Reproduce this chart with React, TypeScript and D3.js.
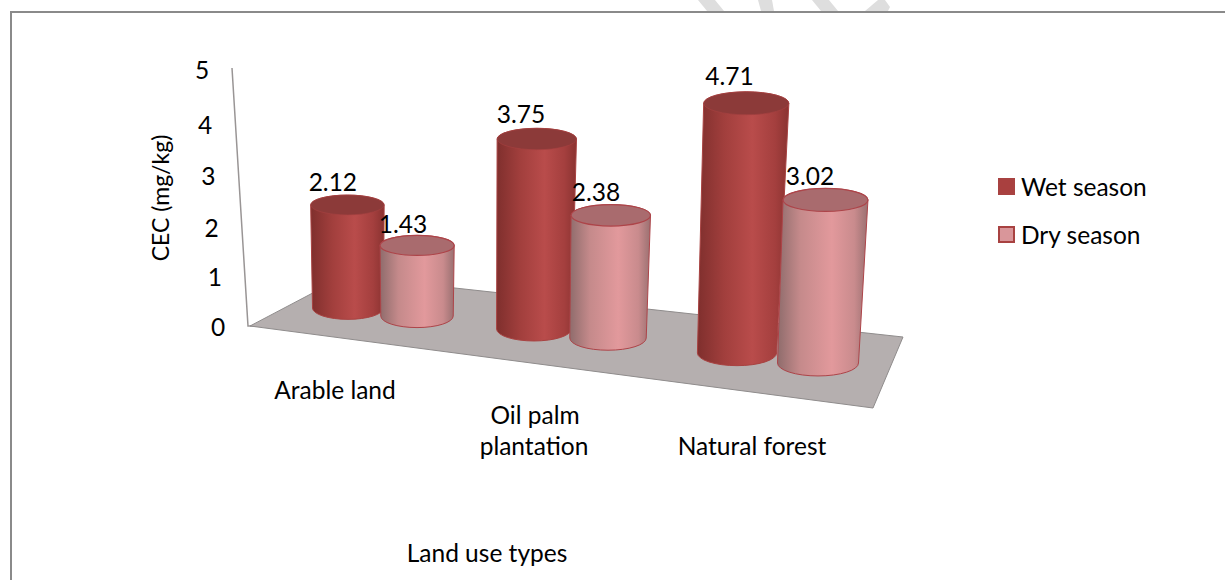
import { useEffect, useRef } from "react";
import * as d3 from "d3";

const categories = ["Arable land", "Oil palm plantation", "Natural forest"];
const seriesNames = ["Wet season", "Dry season"];
const wetValues = [2.12, 3.75, 4.71];
const dryValues = [1.43, 2.38, 3.02];
const tickValues = [0, 1, 2, 3, 4, 5];

const FONT = "Lato, sans-serif";

// bits of the page watermark which stick out above the frame
const watermark = [
	"698,0 715,0 724,11 707,11",
	"758,0 772,0 774,11 761,11",
	"812,0 829,0 838,11 821,11",
	"865,11 878,0 885,0 890,7 888,11",
];

const App = () => {
	const svgRef = useRef<SVGSVGElement>(null);

	useEffect(() => {
		if (!svgRef.current) return;

		const svg = d3.select(svgRef.current);
		svg.selectAll("*").remove();

		// Fake 3D: the floor is a parallelogram, bars stand on it
		const baseX = [
			d3.scaleOrdinal<string, number>(categories, [348, 534, 737]),
			d3.scaleOrdinal<string, number>(categories, [417, 608, 818]),
		];
		const baseY = [
			d3.scaleOrdinal<string, number>(categories, [308, 329, 353]),
			d3.scaleOrdinal<string, number>(categories, [316, 338, 363]),
		];
		// bars nearer the viewer get more pixels per unit
		const unitPx = d3.scaleLinear().domain([308, 363]).range([48.6, 54]);
		const baseRx = d3.scaleLinear().domain([308, 363]).range([35.5, 40.5]);
		const lean = d3.scaleLinear().domain([400, 800]).range([0, 0.044]);

		const tickY = d3
			.scaleLinear()
			.domain([0, 2, 4, 5])
			.range([327, 228, 125, 70]);
		const tickX = d3.scaleLinear().domain([0, 5]).range([218, 202]);

		const defs = svg.append("defs");
		const gradient = (id: string, stops: [number, string][]) => {
			const g = defs.append("linearGradient").attr("id", id);
			stops.forEach(([o, c]) => {
				g.append("stop").attr("offset", o).attr("stop-color", c);
			});
		};
		gradient("wetBody", [
			[0, "#7f2f2d"],
			[0.3, "#a23f3d"],
			[0.6, "#b94c4b"],
			[0.85, "#a43f3e"],
			[1, "#8a3331"],
		]);
		gradient("dryBody", [
			[0, "#8f6c6c"],
			[0.25, "#c58a8b"],
			[0.6, "#e2999c"],
			[0.85, "#c98b8d"],
			[1, "#9a7071"],
		]);

		const seriesStyle = [
			{ body: "url(#wetBody)", top: "#8c3a39", stroke: "#a84241", swatch: "#a9403f" },
			{ body: "url(#dryBody)", top: "#a96b6e", stroke: "#ad4449", swatch: "#d9969a" },
		];

		// Frame, only top and left are drawn
		svg
			.append("g")
			.selectAll("polygon")
			.data(watermark)
			.join("polygon")
			.attr("points", (d) => d)
			.attr("fill", "#dedede");
		svg
			.append("path")
			.attr("d", "M11,580V12H1225")
			.attr("fill", "none")
			.attr("stroke", "#8a8a8a")
			.attr("stroke-width", 2);

		// Wall line and floor
		svg
			.append("path")
			.attr("d", "M232,68L248,326H262")
			.attr("fill", "none")
			.attr("stroke", "#999595")
			.attr("stroke-width", 1.5);
		svg
			.append("polygon")
			.attr("points", "250,326 345,276 903,337 873,408")
			.attr("fill", "#b5afaf")
			.attr("stroke", "#8f8c8c")
			.attr("stroke-width", 1);

		// Bars, wet first so that dry overlaps it
		const allValues = [wetValues, dryValues];
		const labels: { x: number; y: number; text: string }[] = [];
		categories.forEach((cat, c) => {
			allValues.forEach((values, s) => {
				const v = values[c];
				const bx = baseX[s](cat);
				const by = baseY[s](cat);
				const h = v * unitPx(by);
				const tx = bx + h * lean(bx);
				const ty = by - h;
				const rb = baseRx(by);
				const rt = rb + h * 0.012;
				const ryb = rb * 0.32;
				const ryt = rt * 0.27;
				const st = seriesStyle[s];

				const g = svg.append("g");
				g.append("path")
					.attr(
						"d",
						`M${tx - rt},${ty}L${bx - rb},${by}` +
							`A${rb},${ryb} 0 0 0 ${bx + rb},${by}` +
							`L${tx + rt},${ty}` +
							`A${rt},${ryt} 0 0 0 ${tx - rt},${ty}Z`
					)
					.attr("fill", st.body)
					.attr("stroke", st.stroke)
					.attr("stroke-width", 1);
				g.append("ellipse")
					.attr("cx", tx)
					.attr("cy", ty)
					.attr("rx", rt)
					.attr("ry", ryt)
					.attr("fill", st.top)
					.attr("stroke", st.stroke)
					.attr("stroke-width", s === 0 ? 0.6 : 1.2);

				labels.push({
					x: tx - 13 - h * 0.015,
					y: ty - 19 - h * 0.03,
					text: v.toFixed(2),
				});
			});
		});

		const text = (x: number, y: number, t: string, size = 24.5) =>
			svg
				.append("text")
				.attr("x", x)
				.attr("y", y)
				.attr("text-anchor", "middle")
				.attr("dy", "0.35em")
				.attr("font-family", FONT)
				.attr("font-size", size)
				.attr("fill", "#000")
				.text(t);

		labels.forEach((l) => text(l.x, l.y, l.text));

		tickValues.forEach((t) => text(tickX(t), tickY(t), String(t)));

		text(0, 0, "CEC (mg/kg)", 23).attr("x", null).attr("y", null).attr(
			"transform",
			"translate(161,198) rotate(-90)"
		);

		text(335, 390, categories[0]);
		text(535, 415, "Oil palm");
		text(534, 446, "plantation");
		text(752, 446, categories[2]);
		text(487, 553, "Land use types");

		// Legend
		const legendY = d3.scalePoint<string>().domain(seriesNames).range([187, 235]);
		seriesNames.forEach((name, s) => {
			svg
				.append("rect")
				.attr("x", 999)
				.attr("y", legendY(name)! - 8)
				.attr("width", 15)
				.attr("height", 15)
				.attr("fill", seriesStyle[s].swatch)
				.attr("stroke", "#a84241")
				.attr("stroke-width", 2);
			text(1021, legendY(name)!, name).attr("text-anchor", "start");
		});
	}, []);

	return (
		<svg
			ref={svgRef}
			width={1225}
			height={580}
			style={{ position: "absolute", left: 0, top: 0, display: "block" }}
		/>
	);
};

export default App;
